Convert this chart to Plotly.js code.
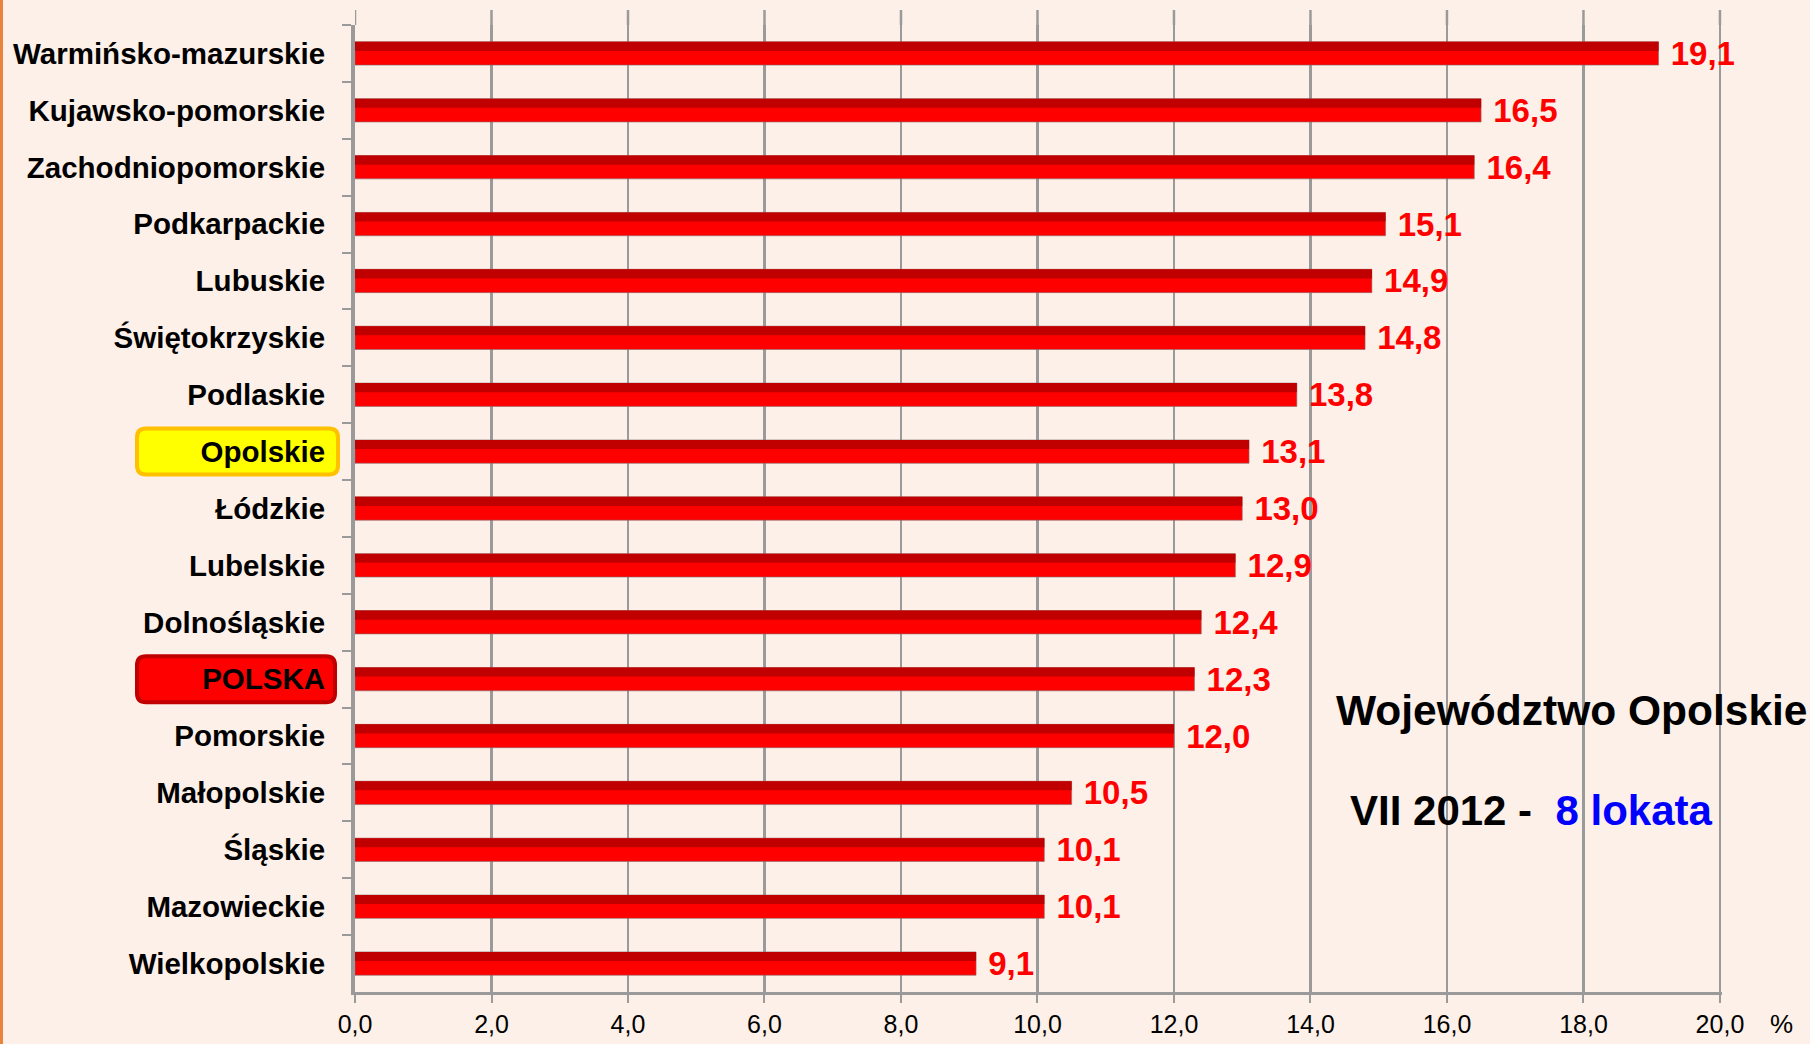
<!DOCTYPE html>
<html>
<head>
<meta charset="utf-8">
<script src="https://cdn.plot.ly/plotly-3.0.1.min.js"></script>
<style>
  html, body { margin: 0; padding: 0; background: #FDF0E8; }
  #chart { width: 1810px; height: 1044px; }
</style>
</head>
<body>
<div id="chart"></div>
<script>
const categories = [
  "Warmińsko-mazurskie", "Kujawsko-pomorskie", "Zachodniopomorskie", "Podkarpackie",
  "Lubuskie", "Świętokrzyskie", "Podlaskie", "Opolskie", "Łódzkie", "Lubelskie",
  "Dolnośląskie", "POLSKA", "Pomorskie", "Małopolskie", "Śląskie", "Mazowieckie", "Wielkopolskie"
];
const values = [19.1, 16.5, 16.4, 15.1, 14.9, 14.8, 13.8, 13.1, 13.0, 12.9, 12.4, 12.3, 12.0, 10.5, 10.1, 10.1, 9.1];
const xTicks = [0, 2, 4, 6, 8, 10, 12, 14, 16, 18, 20];
const xMax = 20;
const titleLine1 = "Województwo Opolskie";
const titleLine2a = "VII 2012 -&nbsp;&nbsp;";
const titleLine2b = "8 lokata";
const highlightYellow = "Opolskie";
const highlightRed = "POLSKA";

const FONT = "Liberation Sans, Arial, sans-serif";

const mainBars = {
  type: "bar", orientation: "h",
  x: values, y: categories,
  width: 0.41, offset: -0.205,
  marker: { color: "#FF0000", line: { color: "rgba(130,110,110,0.6)", width: 1 } },
  texttemplate: " %{x:.1f}",
  textposition: "outside",
  constraintext: "none",
  cliponaxis: false,
  textfont: { family: FONT, size: 33, color: "#FF0000", weight: "bold" },
  hoverinfo: "x+y"
};
const topStripe = {
  type: "bar", orientation: "h",
  x: values, y: categories,
  width: 0.16, offset: -0.205,
  marker: { color: "#C00000", line: { width: 0 } },
  hoverinfo: "skip",
  textposition: "none"
};

function roundedBox(cat, x0, x1, h, fill, line) {
  const r = 9, y0 = -h / 2, y1 = h / 2;
  const path = `M ${x0 + r} ${y0} L ${x1 - r} ${y0} Q ${x1} ${y0} ${x1} ${y0 + r} ` +
    `L ${x1} ${y1 - r} Q ${x1} ${y1} ${x1 - r} ${y1} L ${x0 + r} ${y1} ` +
    `Q ${x0} ${y1} ${x0} ${y1 - r} L ${x0} ${y0 + r} Q ${x0} ${y0} ${x0 + r} ${y0} Z`;
  return {
    type: "path", path: path,
    xref: "paper", xsizemode: "pixel", xanchor: 0,
    yref: "y", ysizemode: "pixel", yanchor: cat,
    fillcolor: fill, line: { color: line, width: 4 }, layer: "below"
  };
}

// short gridline extensions above the plot top (as in the reference's back wall)
const gridExt = xTicks.map(t => ({
  type: "line", xref: "x", x0: t, x1: t,
  yref: "paper", ysizemode: "pixel", yanchor: 1, y0: 0, y1: 15,
  line: { color: "#9A9A9A", width: 2.5 }, layer: "below"
}));

const layout = {
  width: 1810, height: 1044,
  paper_bgcolor: "#FDF0E8", plot_bgcolor: "#FDF0E8",
  margin: { l: 355, r: 88, t: 25, b: 52 },
  separators: ", ",
  barmode: "overlay",
  showlegend: false,
  font: { family: FONT, color: "#000000" },
  xaxis: {
    range: [0, xMax + 0.03], tickvals: xTicks, tickformat: ".1f",
    showgrid: true, gridcolor: "#9A9A9A", gridwidth: 2.5,
    showline: true, linecolor: "#9A9A9A", linewidth: 3,
    ticks: "outside", ticklen: 8, tickcolor: "#9A9A9A", tickwidth: 2,
    tickfont: { family: FONT, size: 25, color: "#000000" },
    ticklabelstandoff: 0,
    zeroline: false, fixedrange: true
  },
  yaxis: {
    type: "category", range: [16.5, -0.5],
    showgrid: false, showline: true, linecolor: "#9A9A9A", linewidth: 4,
    ticks: "outside", tickson: "boundaries", ticklen: 9, tickcolor: "#9A9A9A", tickwidth: 2,
    tickfont: { family: FONT, size: 29.5, color: "#000000", weight: "bold" },
    ticklabelstandoff: 20,
    fixedrange: true
  },
  shapes: [
    roundedBox(highlightYellow, -218, -17, 46, "#FFFF00", "#FFC000"),
    roundedBox(highlightRed, -218, -20, 46, "#FF0000", "#C00000"),
    { type: "rect", xref: "paper", xsizemode: "pixel", xanchor: 0, x0: -355, x1: -352,
      yref: "paper", y0: -0.2, y1: 1.2, fillcolor: "#E8843C", line: { width: 0 }, layer: "below" }
  ].concat(gridExt),
  annotations: [
    { xref: "paper", yref: "paper", x: 0.716, y: 0.2916, xanchor: "left", yanchor: "middle",
      text: titleLine1, showarrow: false,
      font: { family: FONT, size: 42.5, color: "#000000", weight: "bold" } },
    { xref: "paper", yref: "paper", x: 0.7262, y: 0.1882, xanchor: "left", yanchor: "middle",
      text: titleLine2a + '<span style="color:#0000FF">' + titleLine2b + '</span>', showarrow: false,
      font: { family: FONT, size: 42, color: "#000000", weight: "bold" } },
    { xref: "paper", yref: "paper", x: 1.034, y: -0.033, xanchor: "left", yanchor: "middle",
      text: "%", showarrow: false,
      font: { family: FONT, size: 26, color: "#000000" } }
  ]
};

Plotly.newPlot("chart", [mainBars, topStripe], layout, { displayModeBar: false, staticPlot: true });
</script>
</body>
</html>
